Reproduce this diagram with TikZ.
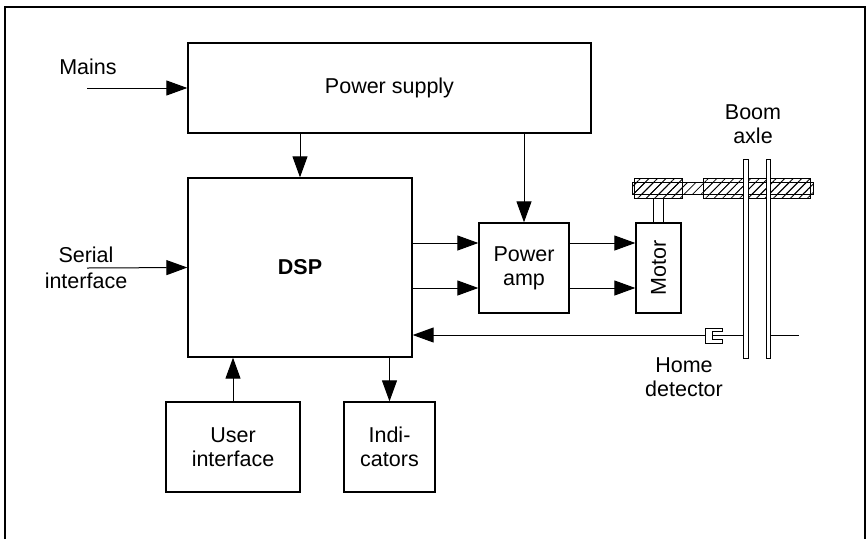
\documentclass[tikz,border=0pt]{standalone}
\usepackage{fontspec}
\setmainfont{Liberation Sans}
\usepackage{tikz}
\usetikzlibrary{arrows.meta,patterns.meta}

\tikzset{
  blockbox/.style={draw,line width=1.3pt,inner sep=0pt,align=center},
  arr/.style={line width=1pt,-{Triangle[length=21pt,width=15pt]}},
  hatch/.style={draw,line width=1pt,pattern={Lines[angle=45,distance=6pt,line width=0.8pt]}},
  plate/.style={draw,line width=1pt,fill=white}
}

\begin{document}
\begin{tikzpicture}[x=1pt,y=-1pt,font=\fontsize{21.5}{24}\selectfont]
    \useasboundingbox (0,0) rectangle (866,539);
    \draw[line width=1.3pt] (5,539) -- (5,7) -- (865,7) -- (865,539); % frame

    \node[blockbox,minimum width=403,minimum height=90] (ps)   at (389.5,88)  {Power supply};
    \node[blockbox,minimum width=224,minimum height=179] (dsp) at (300,267.5) {\bfseries DSP};
    \node[blockbox,minimum width=90,minimum height=90]  (pamp) at (524,268)   {Power\\amp};
    \node[blockbox,minimum width=45,minimum height=90]  (mot)  at (658.5,268) {};
    \node[rotate=90] (motlbl) at (mot.center) {Motor};
    \node[blockbox,minimum width=134,minimum height=90] (ui)   at (233,447)   {User\\interface};
    \node[blockbox,minimum width=91,minimum height=90]  (ind)  at (389.5,447) {Indi-\\cators};

    \node (mains)  at (88,66.5) {Mains};
    \node[align=center,font=\fontsize{21.5}{26}\selectfont] (serial) at (86,268) {Serial\\interface};
    \node[align=center] (boom) at (753,124) {Boom\\axle};
    \node[align=center] (home) at (684,377) {Home\\detector};

    \coordinate (mainsin)  at (87,88);
    \coordinate (serialin) at (87,268);
    \coordinate (det)      at (705,335);

    % connectors
    \draw[arr] (mainsin) -- (ps.west);
    \draw[arr] (serialin) -- (dsp.west);
    \draw[arr] (dsp.north |- ps.south) -- (dsp.north);
    \draw[arr] (pamp.north |- ps.south) -- (pamp.north);
    \draw[arr] (dsp.east |- 0,243) -- (pamp.west |- 0,243);
    \draw[arr] (dsp.east |- 0,288) -- (pamp.west |- 0,288);
    \draw[arr] (pamp.east |- 0,243) -- (mot.west |- 0,243);
    \draw[arr] (pamp.east |- 0,288) -- (mot.west |- 0,288);
    \draw[arr] (det) -- (dsp.east |- det);
    \draw[arr] (ui.north) -- (ui.north |- dsp.south);
    \draw[arr] (ind.north |- dsp.south) -- (ind.north);

    % shaft and boom axle
    \draw[line width=1pt] (653,198) -- (mot.north -| 653,0);
    \draw[line width=1pt] (663,198) -- (mot.north -| 663,0);
    \path[hatch] (632,182) rectangle (813,194);
    \path[hatch] (634,178) rectangle (682,198);
    \path[hatch] (703,178) rectangle (810,198);
    \draw[line width=1pt] (712,335) -- (743,335);
    \draw[line width=1pt] (770,335) -- (799,335);
    \path[plate] (743,159) rectangle (748,358);
    \path[plate] (766,159) rectangle (770,358);

    % home detector
    \draw[line width=1pt,fill=white] (722,328) -- (705,328) -- (705,343) -- (722,343)
        -- (722,339) -- (712,339) -- (712,331) -- (722,331) -- cycle;
\end{tikzpicture}
\end{document}
